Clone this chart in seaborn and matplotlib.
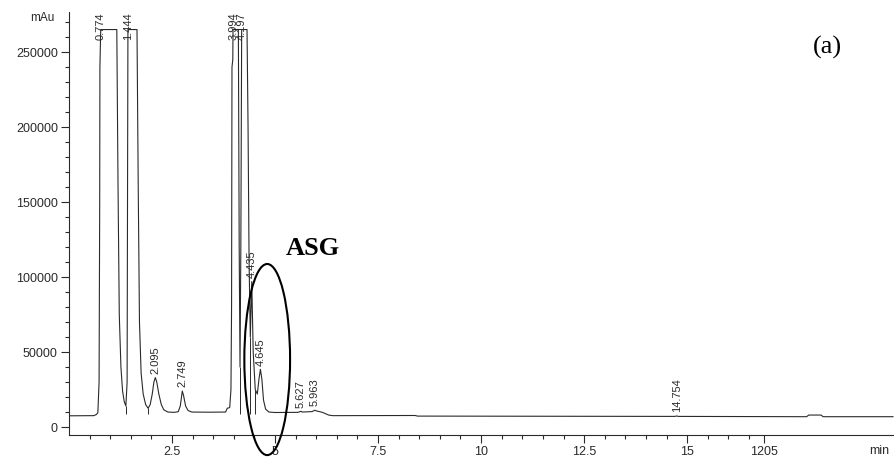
import numpy as np
import pandas as pd
import matplotlib
matplotlib.use("Agg")
import matplotlib.pyplot as plt
from matplotlib.patches import Ellipse
from matplotlib.ticker import FixedLocator
import seaborn as sns

# Detector trace (retention time in min, signal in mAu)
trace_time = [0.00, 0.60, 0.66, 0.70, 0.73, 0.745, 0.75, 0.77, 1.16, 1.19, 1.22, 1.26,
              1.30, 1.34, 1.38, 1.41, 1.42, 1.43, 1.65, 1.68, 1.71, 1.75, 1.80, 1.86,
              1.92, 1.97, 2.02, 2.06, 2.095, 2.13, 2.18, 2.24, 2.30, 2.40, 2.55, 2.65,
              2.70, 2.73, 2.749, 2.78, 2.83, 2.89, 2.98, 3.40, 3.80, 3.84, 3.90, 3.93,
              3.945, 3.955, 3.975, 3.98, 4.11, 4.13, 4.15, 4.17, 4.19, 4.32, 4.345, 4.37,
              4.40, 4.435, 4.47, 4.52, 4.57, 4.61, 4.645, 4.68, 4.72, 4.77, 4.85, 5.00,
              5.55, 5.60, 5.627, 5.66, 5.90, 5.95, 5.963, 6.00, 6.15, 6.30, 6.40, 8.40,
              8.46, 14.70, 14.754, 14.78, 17.90, 17.95, 18.25, 18.30, 20.00]
trace_signal = [7500, 7600, 8300, 9500, 30000, 150000, 240000, 265000, 265000, 160000, 75000, 40000,
                24000, 17000, 14000, 30000, 150000, 265000, 265000, 160000, 70000, 36000, 22000, 15000,
                12500, 15000, 22000, 30000, 33000, 30000, 22000, 15000, 11500, 10000, 9800, 10200,
                14000, 20000, 24000, 21000, 14000, 11000, 10000, 9900, 10000, 12500, 13000, 25000,
                80000, 240000, 245000, 265000, 265000, 120000, 40000, 120000, 265000, 265000, 200000, 110000,
                60000, 97000, 50000, 25000, 22000, 32000, 38500, 32000, 18000, 12000, 10000, 9700,
                9800, 10200, 10500, 10000, 10300, 11000, 11200, 10800, 9800, 8000, 7600, 7700,
                7300, 7100, 7400, 7100, 6900, 8000, 8000, 6900, 6900]

# Integrated peaks (retention times)
peak_rt = [0.774, 1.444, 2.095, 2.749, 3.994, 4.197, 4.435, 4.645, 5.627, 5.963, 14.754]

# Peak boundaries with drop lines to the baseline
valley_time = [1.38, 1.92, 4.15, 4.40, 4.52]
baseline_level = 9000

x_major = [2.5, 5, 7.5, 10, 12.5, 15, 16.87]
x_major_labels = ["2.5", "5", "7.5", "10", "12.5", "15", "1205"]
x_minor = [0.5, 1, 1.5, 2, 3, 3.5, 4, 4.5, 5.5, 6, 6.5, 7, 8, 8.5, 9, 9.5,
           10.5, 11, 11.5, 12, 13, 13.5, 14, 14.5, 15.5, 16, 16.5]
y_major = [0, 50000, 100000, 150000, 200000, 250000]
y_minor = list(range(0, 280000, 10000))

SATURATION = 265000
YTOP = 276700

trace = pd.DataFrame({"time": trace_time, "signal": trace_signal})

sns.set_theme(style="white")
plt.rcParams["font.family"] = ["Liberation Sans", "DejaVu Sans"]

fig = plt.figure(figsize=(8.94, 4.57), dpi=100)
ax = fig.add_axes([69 / 894, 22 / 457, 825 / 894, 423 / 457])

ink = "#2a2a2a"
sns.lineplot(data=trace, x="time", y="signal", ax=ax, sort=False, estimator=None,
             color=ink, linewidth=0.8)

# drop lines at peak boundaries
t_arr = np.array(trace_time, dtype=float)
s_arr = np.array(trace_signal, dtype=float)
for vt in valley_time:
    top = np.interp(vt, t_arr, s_arr)
    ax.vlines(vt, baseline_level, top, color=ink, linewidth=0.7)

# retention-time labels
for rt in peak_rt:
    apex = np.interp(rt, t_arr, s_arr)
    if apex >= SATURATION - 1:
        ax.text(rt, YTOP - 300, f"{rt:.3f}", rotation=90, ha="center", va="top",
                fontsize=8, color=ink)
    else:
        ax.text(rt, apex + 2500, f"{rt:.3f}", rotation=90, ha="center", va="bottom",
                fontsize=8, color=ink)

ax.set_xlim(0, 20.02)
ax.set_ylim(-5300, YTOP)
ax.set_xlabel("")
ax.set_ylabel("")

ax.xaxis.set_major_locator(FixedLocator(x_major))
ax.set_xticklabels(x_major_labels)
ax.xaxis.set_minor_locator(FixedLocator(x_minor))
ax.yaxis.set_major_locator(FixedLocator(y_major))
ax.set_yticklabels([str(v) for v in y_major])
ax.yaxis.set_minor_locator(FixedLocator(y_minor))

ax.tick_params(axis="both", which="major", direction="out", length=6, width=0.8,
               color=ink, labelsize=9, labelcolor=ink, pad=2,
               bottom=True, left=True)
ax.tick_params(axis="both", which="minor", direction="out", length=3, width=0.8,
               color=ink, bottom=True, left=True)

for side in ("top", "right"):
    ax.spines[side].set_visible(False)
for side in ("left", "bottom"):
    ax.spines[side].set_color(ink)
    ax.spines[side].set_linewidth(0.8)

ax.text(19.65, -0.037, "min", transform=ax.get_xaxis_transform(), ha="center",
        va="center", fontsize=9, color=ink)
fig.text(42 / 894, 1 - 18 / 457, "mAu", ha="center", va="center", fontsize=8.5, color=ink)

# highlight of the ASG peak
ax.add_patch(Ellipse((4.81, 45000), width=1.11, height=127400, fill=False,
                     edgecolor="black", linewidth=1.5, clip_on=False, zorder=5))
ax.text(5.92, 119300, "ASG", ha="center", va="center", fontsize=19, fontweight="bold",
        family=["Liberation Serif", "DejaVu Serif"], color="black")
ax.text(18.4, 253000, "(a)", ha="center", va="center", fontsize=19,
        family=["Liberation Serif", "DejaVu Serif"], color="black")

fig.savefig("out.png", dpi=100)
